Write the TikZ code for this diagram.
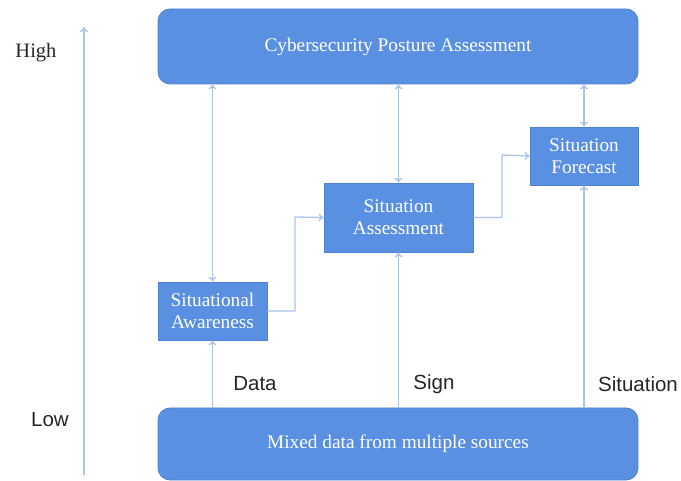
\documentclass[tikz,border=0pt]{standalone}
\usepackage{fontspec}
\setmainfont{Liberation Serif}
\newfontfamily\labelfont{Liberation Sans}
\usetikzlibrary{arrows.meta}
\definecolor{boxfill}{HTML}{5A90E2}
\definecolor{boxedge}{HTML}{4F82D2}
\definecolor{linkcol}{HTML}{A8C3EC}
\begin{document}
\begin{tikzpicture}[x=1pt,y=-1pt,
  bigbox/.style={draw=boxedge,line width=0.8pt,fill=boxfill,rounded corners=12pt,
    text=white,font=\fontsize{19.3}{22}\selectfont},
  smallbox/.style={draw=boxedge,line width=0.8pt,fill=boxfill,text=white,align=center,
    font=\fontsize{19.3}{22}\selectfont,inner sep=0pt},
  link/.style={draw=linkcol,line width=1.3pt,-{To[length=5pt,width=8pt]}},
  dlink/.style={draw=linkcol,line width=1.3pt,{To[length=5pt,width=8pt]}-{To[length=5pt,width=8pt]}},
  tag/.style={font=\labelfont\fontsize{20.5}{24}\selectfont,text=black!85,inner sep=0pt}]
\useasboundingbox (0,0) rectangle (681,481);
% frames
\node[bigbox,minimum width=480pt,minimum height=75pt] (top) at (398,46.5) {Cybersecurity Posture Assessment};
\node[bigbox,minimum width=480pt,minimum height=72pt] (bottom) at (398,444) {\raisebox{-3pt}{Mixed data from multiple sources}};
\node[smallbox,minimum width=109pt,minimum height=58pt] (aware) at (212.5,311) {Situational\\Awareness};
\node[smallbox,minimum width=149pt,minimum height=69pt] (assess) at (398.5,217.5) {Situation\\Assessment};
\node[smallbox,minimum width=108pt,minimum height=58pt] (fore) at (584,156) {Situation\\Forecast};
% level axis
\coordinate (axbot) at (84,475);
\coordinate (axtop) at (84,27);
\draw[link] (axbot) -- (axtop);
\node[font=\fontsize{20.5}{24}\selectfont,text=black!85,inner sep=0pt] (high) at (36,53) {High};
\node[tag] (low) at (50,420) {Low};
% links between levels
\draw[dlink] (top.south -| aware.north) -- (aware.north);
\draw[dlink] (top.south -| assess.north) -- (assess.north);
\draw[dlink] (top.south -| fore.north) -- (fore.north);
\draw[link] (aware.east) -| (295,217) -- (assess.west);
\draw[link] (assess.east) -| (502,155) -- (fore.west);
\draw[link] (bottom.north -| aware.south) -- (aware.south);
\draw[link] (bottom.north -| assess.south) -- (assess.south);
\draw[link] (bottom.north -| fore.south) -- (fore.south);
% flow tags
\node[tag] (data) at (255,384) {Data};
\node[tag] (sign) at (434,384) {Sign};
\node[tag] (situ) at (638,384) {Situation};
\end{tikzpicture}
\end{document}
